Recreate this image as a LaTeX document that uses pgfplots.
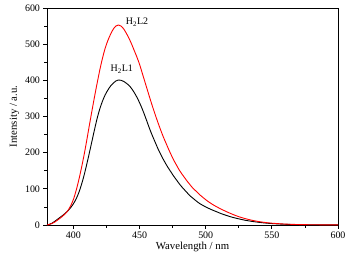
\documentclass[border=0pt]{standalone}
\usepackage{pgfplots}
\pgfplotsset{compat=1.18}
\usepackage{fontspec}
\setmainfont{Liberation Serif}
\begin{document}
\begin{tikzpicture}
\begin{axis}[
  scale only axis,
  width=291bp, height=217bp,
  xmin=380, xmax=600, ymin=0, ymax=600,
  xtick={400,450,500,550,600},
  ytick={0,100,200,300,400,500,600},
  minor x tick num=1, minor y tick num=1,
  tick align=outside,
  xtick pos=bottom, ytick pos=left,
  major tick length=3.5bp, minor tick length=2.5bp,
  axis line style={line width=0.9bp},
  every tick/.style={black, line width=0.8bp},
  tick label style={font=\fontsize{10}{12}\selectfont},
  label style={font=\fontsize{10.8}{12}\selectfont},
  /pgf/number format/assume math mode=true,
  xlabel={Wavelength / nm},
  ylabel={Intensity / a.u.},
  xlabel style={yshift=4bp},
  ylabel style={yshift=-1bp},
  clip=false,
]
\addplot[black, line width=0.9bp, smooth, tension=0.5] coordinates {
(380,0) (382,2) (384,5.5) (386,10.5) (388,16) (390,21.5) (392,27) (394,33) (396,40)
(398,48.5) (400,59) (402,72) (404,89) (406,111) (408,137) (410,167) (412,199)
(414,232) (416,265) (418,296) (420,322) (422,343) (424,360) (426,373) (428,384)
(430,392) (432,398) (434,401) (436,400) (438,397) (440,392) (442,386) (444,377)
(446,366) (448,353) (450,338) (452,321) (454,302) (456,282) (458,262) (460,244)
(462,227) (464,210) (466,195) (468,181) (470,168) (472,156) (474,145) (476,134)
(478,124) (480,114) (482,105) (484,97) (486,89) (488,81) (490,75) (492,69)
(494,63) (496,58) (500,50) (504,43) (508,37) (512,31) (516,26) (520,21.5)
(525,17) (530,13) (535,10) (540,7.5) (545,5.5) (550,4) (560,2) (570,1) (580,0.5)
(600,0.2)
};
\addplot[red, line width=0.9bp, smooth, tension=0.5] coordinates {
(380,0) (382,1.8) (384,4.5) (386,8.5) (388,13.5) (390,19) (392,25) (394,32) (396,41)
(398,54) (400,71) (402,95) (404,124) (406,157) (408,193) (410,233) (412,275)
(414,316) (416,356) (418,394) (420,430) (422,462) (424,489) (426,510) (428,527)
(430,541) (432,550) (434,553) (436,550) (438,542) (440,530) (442,516) (444,500)
(446,482) (448,464) (450,444) (452,420) (454,396) (456,372) (458,348) (460,325)
(462,303) (464,282) (466,262) (468,243) (470,226) (472,209) (474,193) (476,178)
(478,165) (480,152) (482,141) (484,131) (486,121) (488,112) (490,103) (492,96)
(494,89) (496,82) (500,70) (503,62) (506,55) (510,47) (515,38) (520,30) (525,23)
(530,17.5) (535,13) (540,9.5) (545,7) (550,5) (560,2.5) (570,1.3) (580,0.7)
(600,0.3)
};
\node[font=\fontsize{10}{12}\selectfont] at (axis cs:448,561) {H\textsubscript{2}L2};
\node[font=\fontsize{10}{12}\selectfont] at (axis cs:436.5,431) {H\textsubscript{2}L1};
\end{axis}
\path ([xshift=-47bp,yshift=-37bp]current axis.south west) rectangle ([xshift=22bp,yshift=8bp]current axis.north east);
\end{tikzpicture}
\end{document}
